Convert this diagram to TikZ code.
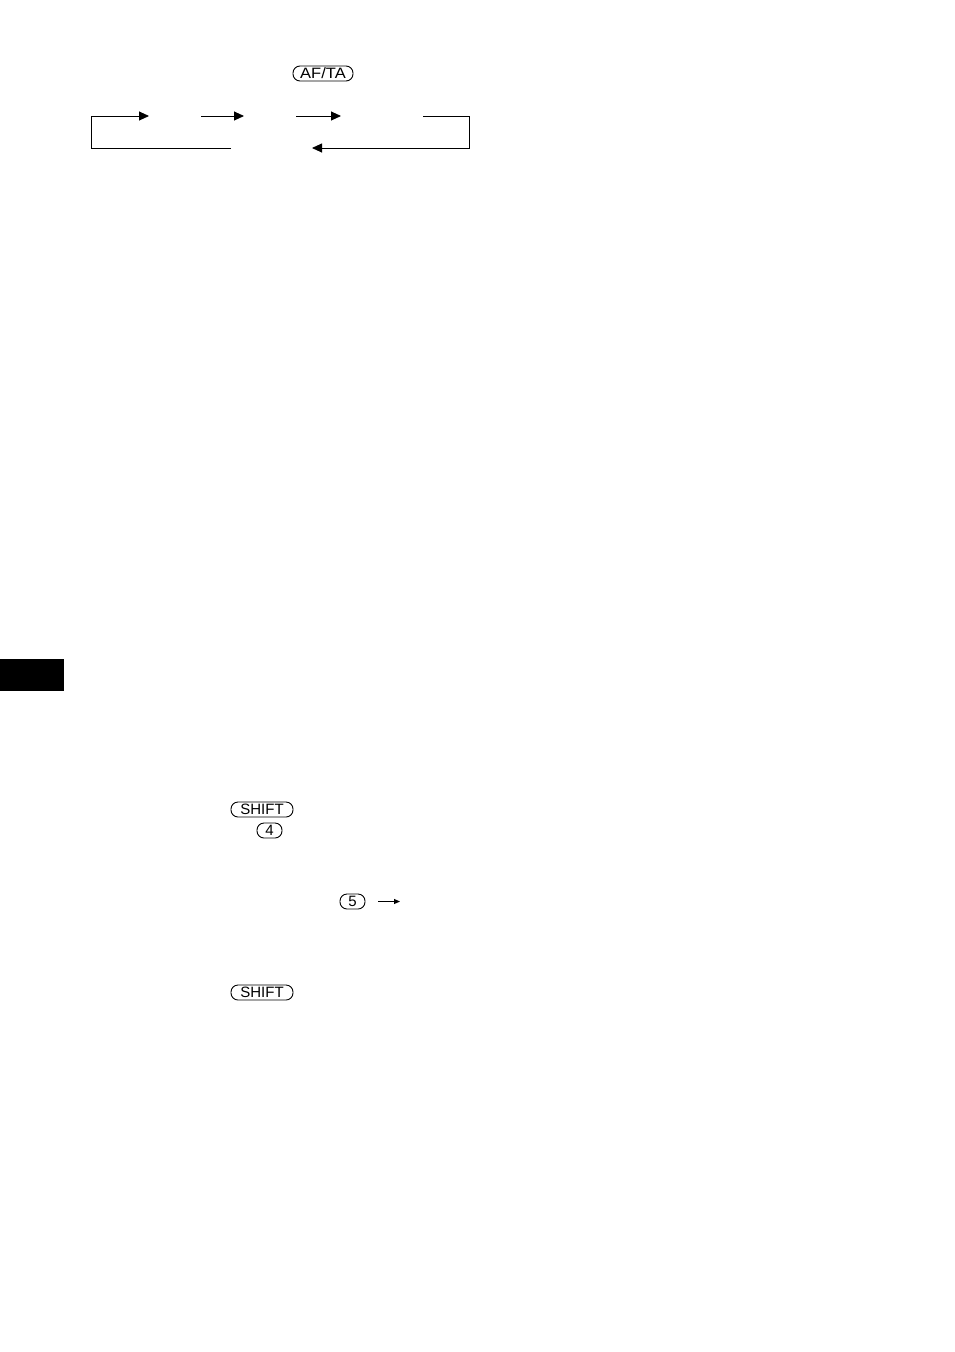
\documentclass[tikz,border=0pt]{standalone}
\usepackage{fontspec}
\setmainfont{Liberation Sans}
\usetikzlibrary{arrows.meta}
\begin{document}
\begin{tikzpicture}[x=1pt,y=-1pt,
  btn/.style={draw,line width=0.9pt,rounded corners=7pt,inner sep=0pt,font=\fontsize{15}{15}\selectfont},
  flow/.style={line width=0.9pt},
  tip/.style={-{Triangle[length=10pt,width=9pt]}}]
\useasboundingbox (0,0) rectangle (954,1352);
% top button
\node[btn,minimum width=60pt,minimum height=15pt] (afta) at (323,73.5) {\scalebox{1.1}[1]{AF/TA}};
% cycle arrows
\coordinate (l0) at (91,148);
\coordinate (l1) at (91,116);
\coordinate (a1) at (149,116);
\coordinate (b0) at (201,116);
\coordinate (b1) at (244,116);
\coordinate (c0) at (296,116);
\coordinate (c1) at (341,116);
\coordinate (r0) at (423,116);
\coordinate (r1) at (469,116);
\coordinate (r2) at (469,148);
\coordinate (r3) at (312,148);
\coordinate (l2) at (231,148);
\draw[flow,tip] (l2) -- (l0) -- (l1) -- (a1);
\draw[flow,tip] (b0) -- (b1);
\draw[flow,tip] (c0) -- (c1);
\draw[flow,tip] (r0) -- (r1) -- (r2) -- (r3);
% side tab
\fill (0,659) rectangle (64,691);
% buttons lower
\node[btn,minimum width=62pt,minimum height=15pt] (shift1) at (262,809.5) {SHIFT};
\node[btn,minimum width=25pt,minimum height=15pt] (four) at (269.5,830.5) {4};
\node[btn,minimum width=25pt,minimum height=15pt] (five) at (352.5,901.5) {5};
\coordinate (ar0) at (378,901.5);
\coordinate (ar1) at (400,901.5);
\draw[line width=0.9pt,-{Triangle[length=6pt,width=5pt]}] (ar0) -- (ar1);
\node[btn,minimum width=62pt,minimum height=15pt] (shift2) at (262,992.5) {SHIFT};
\end{tikzpicture}
\end{document}
